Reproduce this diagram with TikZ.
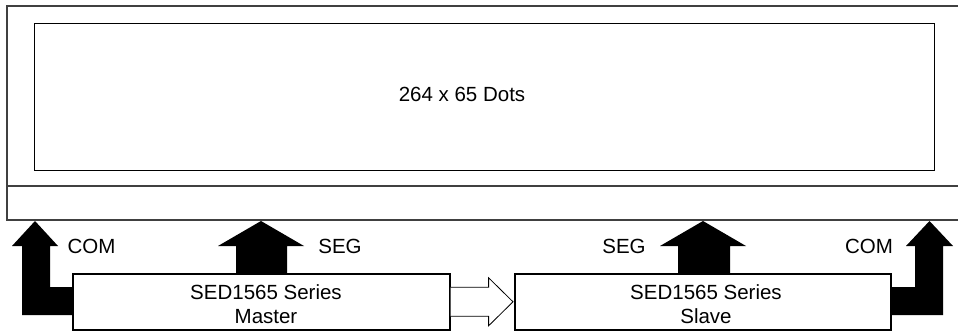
\documentclass[tikz,border=0pt]{standalone}
\usepackage{fontspec}
\setmainfont{Liberation Sans}
\usetikzlibrary{calc}
\begin{document}
\begin{tikzpicture}[x=1pt,y=-1pt,
  lbl/.style={font=\fontsize{20.5pt}{25pt}\selectfont, inner sep=0pt, anchor=base},
  panel/.style={draw=black!75, line width=1.6pt},
  chip/.style={draw=black, line width=1.6pt, fill=white, inner sep=0pt, anchor=north west},
  bus/.style={fill=black},
  hollow/.style={draw=black, line width=0.8pt, fill=white, line join=miter}]
\useasboundingbox (0,0) rectangle (958,331);
\clip (0,0) rectangle (958,331);
% display panel
\draw[panel] (970,6) -- (7,6) -- (7,220) -- (970,220);
\draw[panel] (7,186) -- (970,186);
\node[draw, line width=1.4pt, minimum width=900pt, minimum height=147pt, anchor=north west, inner sep=0pt] (lcd) at (34,23) {};
\node[lbl] (dots) at (462,102) {264 x 65 Dots};
% buses
\fill[bus] (22,246) -- (12,246) -- (35,221) -- (58,246) -- (50,246) -- (50,287) -- (80,287) -- (80,315) -- (22,315) -- cycle;
\fill[bus] (236,280) -- (236,246) -- (218,246) -- (261,221) -- (304,246) -- (287,246) -- (287,280) -- cycle;
\fill[bus] (678,280) -- (678,246) -- (660,246) -- (703,221) -- (746,246) -- (730,246) -- (730,280) -- cycle;
\fill[bus] (943,246) -- (953,246) -- (929.5,221) -- (906,246) -- (915,246) -- (915,287) -- (884,287) -- (884,315) -- (943,315) -- cycle;
% chips
\node[chip, minimum width=377pt, minimum height=56pt] (master) at (72,273) {};
\node[chip, minimum width=376pt, minimum height=56pt] (slave) at (514,273) {};
\node[lbl] (m1) at (266,299) {SED1565 Series};
\node[lbl] (m2) at (266,323) {Master};
\node[lbl] (s1) at (706,299) {SED1565 Series};
\node[lbl] (s2) at (706,323) {Slave};
% labels
\node[lbl] (com1) at (91.5,253) {COM};
\node[lbl] (seg1) at (340,253) {SEG};
\node[lbl] (seg2) at (624,253) {SEG};
\node[lbl] (com2) at (869,253) {COM};
% master -> slave
\draw[hollow] ($(master.east)+(0,-14.5)$) -- ($(master.east)+(38,-14.5)$) -- ($(master.east)+(38,-24)$) -- ($(slave.west)+(-1,0)$) -- ($(master.east)+(38,24)$) -- ($(master.east)+(38,14.5)$) -- ($(master.east)+(0,14.5)$);
\end{tikzpicture}
\end{document}
